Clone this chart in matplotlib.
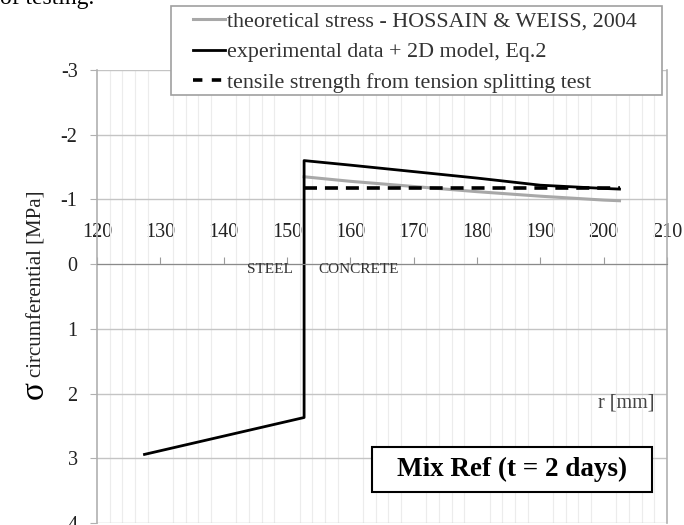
import matplotlib
matplotlib.use('Agg')
from matplotlib import pyplot as plt
from matplotlib.lines import Line2D
from matplotlib.patches import Rectangle
import numpy as np

plt.rcParams['font.family'] = ['Liberation Serif', 'DejaVu Serif']
plt.rcParams['axes.unicode_minus'] = False

# radius [mm] and circumferential stress [MPa]
r_exp = [127.5, 152.7, 152.7, 160, 170, 180, 190, 200, 202.5]
s_exp = [2.94, 2.37, -1.60, -1.53, -1.43, -1.33, -1.22, -1.17, -1.16]

r_theo = [152.7, 160, 170, 180, 190, 200, 202.5]
s_theo = [-1.35, -1.28, -1.20, -1.12, -1.05, -0.99, -0.98]

r_tens = [152.7, 202.5]
s_tens = [-1.18, -1.18]

x_ticks = [120, 130, 140, 150, 160, 170, 180, 190, 200, 210]
y_ticks = [-3, -2, -1, 0, 1, 2, 3, 4]

W, H = 684, 525
fig = plt.figure(figsize=(W / 100, H / 100), dpi=100)
ax = fig.add_axes([97 / W, 1 - 523 / H, (667 - 97) / W, (523 - 70) / H])

ax.set_xlim(120, 210)
ax.set_ylim(4, -3)

# faint minor vertical grid every 2 mm
ax.set_xticks(np.arange(120, 211, 2), minor=True)
ax.grid(True, which='minor', axis='x', color='#ececec', lw=0.8)
ax.set_yticks(y_ticks)
ax.grid(True, which='major', axis='y', color='#c4c4c4', lw=1)
ax.set_axisbelow(True)

ax.plot(r_theo, s_theo, color='#a8a8a8', lw=2.2)
ax.plot(r_exp, s_exp, color='black', lw=2)
ax.plot(r_tens, s_tens, color='black', lw=2.6, dashes=(3.6, 2.2))

# x axis drawn at stress = 0, labels above
ax.spines['top'].set_position(('data', 0))
ax.spines['top'].set_color('#8a8a8a')
ax.spines['bottom'].set_visible(False)
for s in ['left', 'right']:
    ax.spines[s].set_color('#b0b0b0')
    ax.spines[s].set_linewidth(1.2)
ax.xaxis.set_ticks_position('top')
ax.set_xticks(x_ticks)
ax.tick_params(axis='x', which='major', direction='out', length=5, color='#9a9a9a',
               pad=11, labelsize=14.5, labelcolor='#222222')
ax.tick_params(axis='x', which='minor', length=0)
ax.tick_params(axis='y', length=5, color='#b0b0b0', labelsize=14.5, pad=9,
               labelcolor='#222222')

ax.text(151, 0.08, 'STEEL', fontsize=11, ha='right', va='center', color='#333333')
ax.text(155, 0.08, 'CONCRETE', fontsize=11, ha='left', va='center', color='#333333')
ax.text(208.1, 2.15, 'r [mm]', fontsize=14.5, ha='right', va='center', color='#444444')

# boxed note
ax.add_patch(Rectangle((0.4825, 0.0684), 0.4912, 0.0994, transform=ax.transAxes,
                       fc='white', ec='black', lw=1.5, zorder=5))
ax.text(0.728, 0.118, 'Mix Ref (t = 2 days)', transform=ax.transAxes, fontsize=19.5,
        fontweight='bold', ha='center', va='center', zorder=6)

# y label with a larger sigma
fig.text(35 / W, 1 - 390 / H, 'σ', fontsize=24, rotation=90, ha='center', va='center')
fig.text(37 / W, 1 - 377 / H, 'circumferential [MPa]', fontsize=15, rotation=90,
         ha='center', va='bottom', color='#222222')

# legend, frame drawn by hand so it can match the wide box
fig.patches.append(Rectangle((171 / W, 1 - 95 / H), (662 - 171) / W, (95 - 6) / H,
                             transform=fig.transFigure, fc='white', ec='#a0a0a0', lw=1.2,
                             zorder=4))
handles = [Line2D([], [], color='#a8a8a8', lw=2.2),
           Line2D([], [], color='black', lw=2),
           Line2D([], [], color='black', lw=2.6, dashes=(2.6, 2.6))]
labels = ['theoretical stress - HOSSAIN & WEISS, 2004',
          'experimental data + 2D model, Eq.2',
          'tensile strength from tension splitting test']
leg = fig.legend(handles, labels, loc='upper left', bbox_to_anchor=(190 / W, 1 - 8 / H),
                 fontsize=15.8, handlelength=1.45, handletextpad=0.1, labelspacing=0.47,
                 borderpad=0.15, borderaxespad=0, frameon=False, labelcolor='#333333')
leg.set_zorder(5)

fig.text(0, 1 - 4 / H, 'of testing.', fontsize=17, ha='left', va='baseline')

fig.savefig('out.png', dpi=100)
